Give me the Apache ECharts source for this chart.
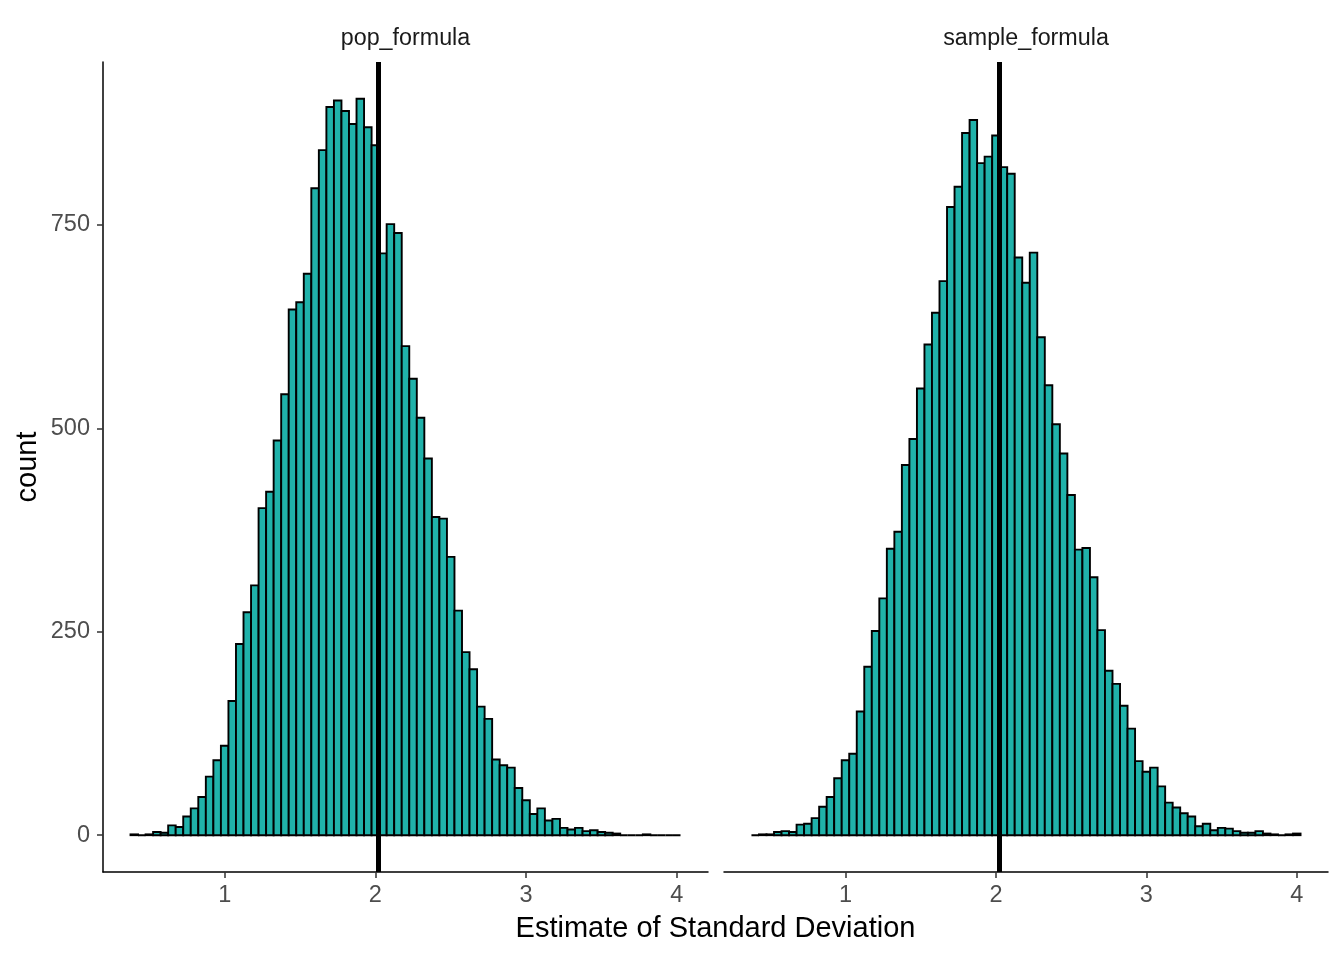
<!DOCTYPE html>
<html>
<head>
<meta charset="utf-8">
<title>Estimate of Standard Deviation</title>
<script src="https://cdn.jsdelivr.net/npm/echarts@6/dist/echarts.min.js"></script>
<style>
    html, body { margin: 0; padding: 0; background: #fff; }
    #chart { width: 1344px; height: 960px; }
</style>
</head>
<body>
<div id="chart"></div>
<script>
// bin centres (width 0.05), shared by both facets
let binCenters = [
    0.40, 0.45, 0.50, 0.55, 0.60, 0.65, 0.70, 0.75, 0.80, 0.85,
    0.90, 0.95, 1.00, 1.05, 1.10, 1.15, 1.20, 1.25, 1.30, 1.35,
    1.40, 1.45, 1.50, 1.55, 1.60, 1.65, 1.70, 1.75, 1.80, 1.85,
    1.90, 1.95, 2.00, 2.05, 2.10, 2.15, 2.20, 2.25, 2.30, 2.35,
    2.40, 2.45, 2.50, 2.55, 2.60, 2.65, 2.70, 2.75, 2.80, 2.85,
    2.90, 2.95, 3.00, 3.05, 3.10, 3.15, 3.20, 3.25, 3.30, 3.35,
    3.40, 3.45, 3.50, 3.55, 3.60, 3.65, 3.70, 3.75, 3.80, 3.85,
    3.90, 3.95, 4.00
];
let binWidth = 0.05;

let popCounts = [
    1, 0, 1, 4, 3, 12, 10, 23, 33, 47,
    72, 92, 110, 165, 235, 274, 307, 402, 422, 485,
    542, 646, 655, 690, 795, 842, 895, 903, 890, 874,
    905, 870, 848, 715, 751, 740, 601, 561, 513, 463,
    391, 389, 342, 276, 225, 204, 158, 143, 93, 86,
    83, 58, 43, 26, 33, 18, 20, 9, 7, 9,
    5, 6, 4, 3, 2, 0, 0, 0, 1, 0,
    0, 0, 0
];
let sampleCounts = [
    0, 1, 1, 4, 5, 4, 13, 14, 21, 35,
    47, 70, 92, 100, 152, 207, 251, 291, 352, 373,
    455, 487, 549, 603, 642, 681, 772, 797, 863, 879,
    826, 834, 860, 821, 813, 710, 679, 716, 612, 553,
    505, 469, 418, 351, 353, 317, 252, 202, 186, 159,
    131, 91, 78, 83, 60, 40, 34, 27, 23, 11,
    14, 6, 9, 8, 5, 3, 3, 5, 2, 1,
    0, 1, 2
];
let facetNames = ['pop_formula', 'sample_formula'];
let trueSd = 2.02;
let xTicks = [1, 2, 3, 4];
let yTicks = [0, 250, 500, 750];
// ----------------------------------------------------
let fontFamily = '"Liberation Sans", Arial, Helvetica, sans-serif';
let barFill = '#20B2AA';
let panels = [
    { left: 103, right: 636, center: 405.5 },
    { left: 724, right: 16, center: 1026 }
];

function renderBin(params, api) {
    let x = api.value(0);
    let c = api.value(1);
    let p0 = api.coord([x - binWidth / 2, 0]);
    let p1 = api.coord([x + binWidth / 2, c]);
    return {
        type: 'rect',
        shape: { x: p0[0], y: p1[1], width: p1[0] - p0[0], height: p0[1] - p1[1] },
        style: { fill: barFill, stroke: '#000', lineWidth: 1.9 }
    };
}

let grids = [], xAxes = [], yAxes = [], series = [], graphics = [];
[popCounts, sampleCounts].forEach(function (counts, k) {
    grids.push({ left: panels[k].left, right: panels[k].right, top: 62, bottom: 88 });
    xAxes.push({
        type: 'value',
        gridIndex: k,
        min: 0.1925,
        max: 4.2075,
        axisLine: { show: true, onZero: false, lineStyle: { color: '#000', width: 1.5 } },
        axisTick: { show: true, length: 6, customValues: xTicks, lineStyle: { color: '#333', width: 1.5 } },
        axisLabel: { show: true, customValues: xTicks, margin: 12, color: '#4D4D4D', fontSize: 23.5, fontFamily: fontFamily },
        splitLine: { show: false }
    });
    yAxes.push({
        type: 'value',
        gridIndex: k,
        min: -45.25,
        max: 950.25,
        axisLine: { show: k === 0, onZero: false, lineStyle: { color: '#000', width: 1.5 } },
        axisTick: { show: k === 0, length: 6, customValues: yTicks, lineStyle: { color: '#333', width: 1.5 } },
        axisLabel: { show: k === 0, customValues: yTicks, margin: 13, color: '#4D4D4D', fontSize: 23.5, fontFamily: fontFamily },
        splitLine: { show: false }
    });
    let data = [];
    for (let i = 0; i < binCenters.length; i++) {
        data.push([binCenters[i], counts[i]]);
    }
    series.push({
        type: 'custom',
        xAxisIndex: k,
        yAxisIndex: k,
        renderItem: renderBin,
        data: data,
        clip: false,
        markLine: {
            silent: true,
            symbol: 'none',
            label: { show: false },
            lineStyle: { color: '#000', width: 5, type: 'solid' },
            data: [{ xAxis: trueSd }]
        }
    });
    graphics.push({
        type: 'text',
        x: panels[k].center,
        y: 39,
        style: {
            text: facetNames[k],
            fill: '#1A1A1A',
            font: '23.3px ' + fontFamily,
            textAlign: 'center',
            textVerticalAlign: 'middle'
        }
    });
});

graphics.push({
    type: 'text',
    x: 715.5,
    y: 929,
    style: {
        text: 'Estimate of Standard Deviation',
        fill: '#000',
        font: '29px ' + fontFamily,
        textAlign: 'center',
        textVerticalAlign: 'middle'
    }
});
graphics.push({
    type: 'text',
    x: 28,
    y: 467,
    rotation: Math.PI / 2,
    style: {
        text: 'count',
        fill: '#000',
        font: '29px ' + fontFamily,
        textAlign: 'center',
        textVerticalAlign: 'middle'
    }
});

let chart = echarts.init(document.getElementById('chart'), null, { renderer: 'canvas' });
let option = {
    animation: false,
    backgroundColor: '#fff',
    grid: grids,
    xAxis: xAxes,
    yAxis: yAxes,
    series: series,
    graphic: graphics
};
chart.setOption(option);
</script>
</body>
</html>
